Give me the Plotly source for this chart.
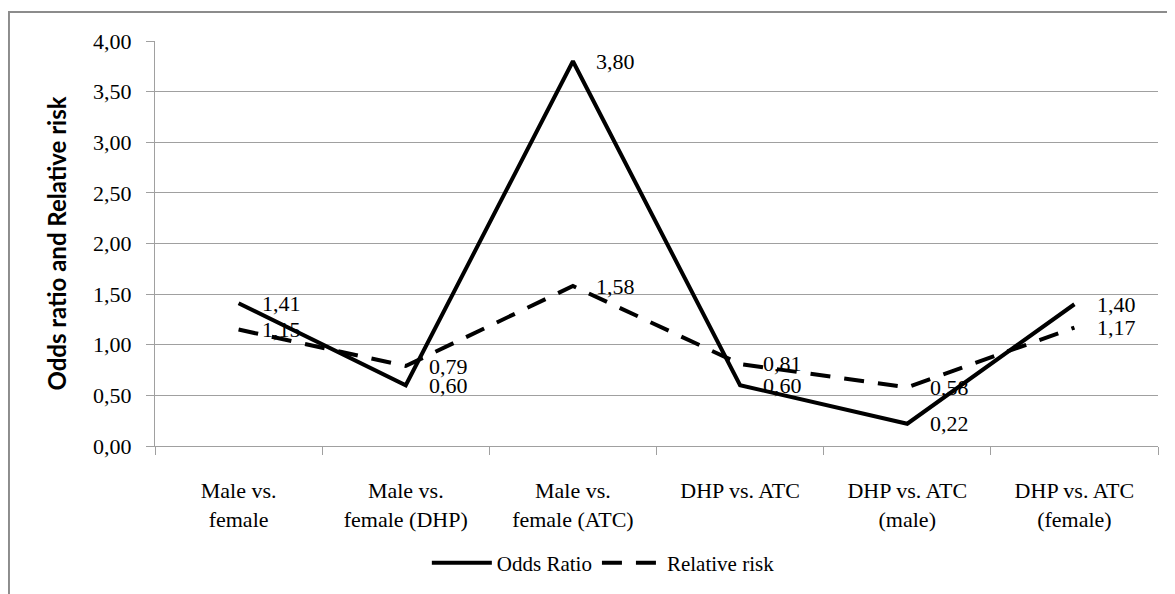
import plotly.graph_objects as go

categories = ["Male vs.<br>female", "Male vs.<br>female (DHP)", "Male vs.<br>female (ATC)",
              "DHP vs. ATC", "DHP vs. ATC<br>(male)", "DHP vs. ATC<br>(female)"]
odds_ratio = [1.41, 0.60, 3.80, 0.60, 0.22, 1.40]
relative_risk = [1.15, 0.79, 1.58, 0.81, 0.58, 1.17]

SERIF = "Liberation Serif"

fig = go.Figure()
fig.add_trace(go.Scatter(x=categories, y=odds_ratio, mode="lines", name="Odds Ratio",
                         line=dict(color="black", width=4)))
fig.add_trace(go.Scatter(x=categories, y=relative_risk, mode="lines", name="Relative risk",
                         line=dict(color="black", width=4, dash="20px,14px")))

for series in (odds_ratio, relative_risk):
    for c, v in zip(categories, series):
        fig.add_annotation(x=c, y=v, text=f"{v:.2f}".replace(".", ","), showarrow=False,
                           xanchor="left", yanchor="middle", xshift=21,
                           font=dict(family=SERIF, size=22, color="black"))

fig.add_shape(type="rect", xref="paper", yref="paper", x0=-0.1456, x1=1.2, y0=-0.5, y1=1.0714,
              line=dict(color="#8c8c8c", width=2), fillcolor="rgba(0,0,0,0)", layer="below")

fig.update_layout(
    width=1167, height=586,
    margin=dict(l=147, r=17, t=33, b=147),
    paper_bgcolor="white", plot_bgcolor="white",
    separators=", ",
    showlegend=True,
    legend=dict(orientation="h", x=0.447, xanchor="center", y=-0.286, yanchor="middle",
                font=dict(family=SERIF, size=21, color="black"), itemwidth=60),
    font=dict(family=SERIF, size=22, color="black"),
)
fig.update_xaxes(type="category", range=[-0.5, 5.5], showgrid=False, showline=True,
                 linecolor="#a0a0a0", linewidth=1, ticks="outside", tickson="boundaries",
                 ticklen=8, tickcolor="#a0a0a0", ticklabelstandoff=25,
                 tickfont=dict(family=SERIF, size=22, color="black"))
fig.update_yaxes(range=[0, 4], dtick=0.5, tickformat=".2f", showgrid=True, gridcolor="#a0a0a0",
                 gridwidth=1, showline=True, linecolor="#a0a0a0", linewidth=1, ticks="outside",
                 ticklen=8, tickcolor="#a0a0a0", ticklabelstandoff=10, zeroline=False,
                 tickfont=dict(family=SERIF, size=22, color="black"),
                 title=dict(text="<b>Odds ratio and Relative risk</b>", standoff=19,
                            font=dict(family="Lato", size=24, color="black")))

fig.write_html("out.html")
